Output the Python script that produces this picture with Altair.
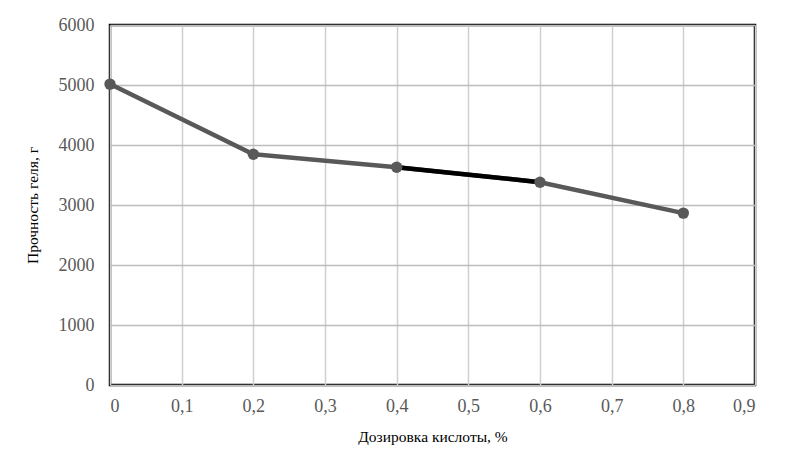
import altair as alt
import pandas as pd

x_vals = [0.0, 0.2, 0.4, 0.6, 0.8]
y_vals = [5015, 3845, 3630, 3380, 2865]
x_ticks = [0, 0.1, 0.2, 0.3, 0.4, 0.5, 0.6, 0.7, 0.8, 0.9]
y_ticks = [0, 1000, 2000, 3000, 4000, 5000, 6000]
highlight_range = [0.4, 0.6]

df = pd.DataFrame({"x": x_vals, "y": y_vals})
df_hi = df[(df.x >= highlight_range[0]) & (df.x <= highlight_range[1])]

font = "Liberation Serif"

xenc = alt.X("x:Q", scale=alt.Scale(domain=[0, 0.9], nice=False),
             axis=alt.Axis(values=x_ticks, title="Дозировка кислоты, %",
                           labelExpr="datum.value == 0 ? '0' : replace(format(datum.value, '.1f'), '.', ',')",
                           grid=True, gridColor="#cfcfcf", gridWidth=1.5,
                           domain=False, ticks=False, labelPadding=12,
                           labelFont=font, labelFontSize=18, labelColor="#595959",
                           titleFont=font, titleFontSize=15.5, titleFontWeight="normal",
                           titleColor="#000000", titlePadding=14))
yenc = alt.Y("y:Q", scale=alt.Scale(domain=[0, 6000], nice=False),
             axis=alt.Axis(values=y_ticks, title="Прочность геля, г", format="d",
                           grid=True, gridColor="#bdbdbd", gridWidth=1.5,
                           domain=False, ticks=False, labelPadding=16,
                           labelFont=font, labelFontSize=18, labelColor="#595959",
                           titleFont=font, titleFontSize=15.5, titleFontWeight="normal",
                           titleColor="#000000", titlePadding=18))

base = alt.Chart(df)
line = base.mark_line(color="#595959", strokeWidth=4.5).encode(x=xenc, y=yenc)
hi = alt.Chart(df_hi).mark_line(color="#000000", strokeWidth=4.5).encode(x="x:Q", y="y:Q")
pts = base.mark_circle(color="#595959", size=130, opacity=1).encode(x="x:Q", y="y:Q")

chart = alt.layer(line, hi, pts).properties(
    width=645, height=360,
    autosize=alt.AutoSizeParams(type="none"),
    padding={"left": 102, "top": 17, "right": 37, "bottom": 60},
    background="white",
).configure_view(stroke="#000000", strokeWidth=2.5)

chart.save("out.html", embed_options={"renderer": "svg", "actions": False})
